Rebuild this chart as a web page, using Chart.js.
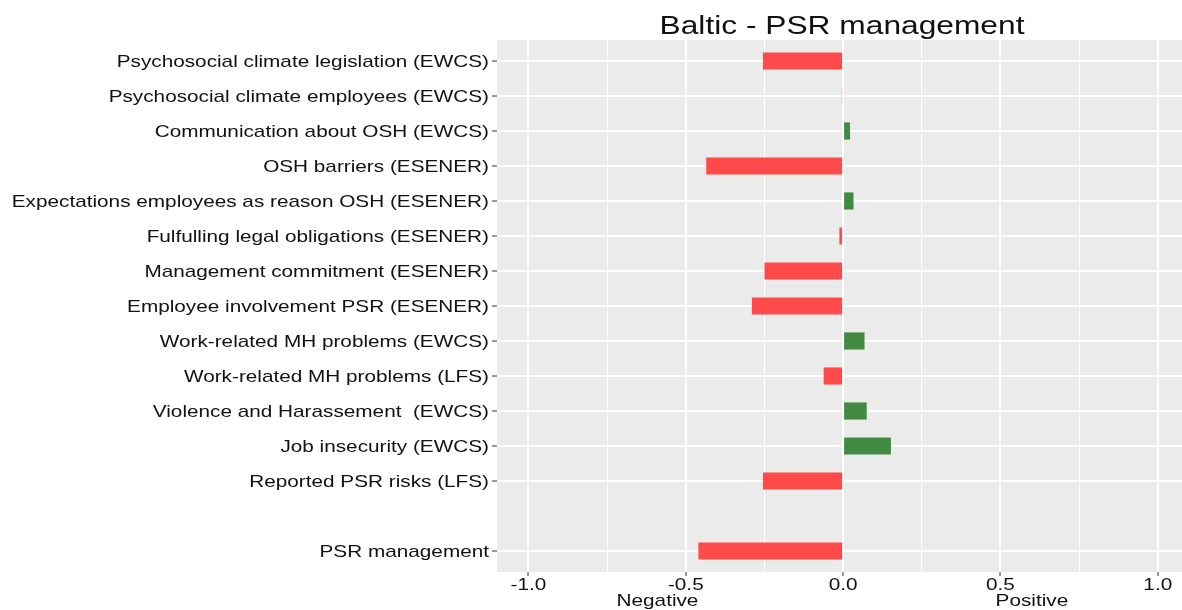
<!DOCTYPE html>
<html>
<head>
<meta charset="utf-8">
<script src="https://cdn.jsdelivr.net/npm/chart.js@4.4.1/dist/chart.umd.min.js"></script>
<style>
  html, body { margin: 0; padding: 0; background: #fff; overflow: hidden; }
  #wrap { width: 1182px; height: 610px; }
</style>
</head>
<body>
<div id="wrap"><canvas id="chart"></canvas></div>
<script>
// indicators, top to bottom ('' = empty spacer row)
const categories = [
  'Psychosocial climate legislation (EWCS)',
  'Psychosocial climate employees (EWCS)',
  'Communication about OSH (EWCS)',
  'OSH barriers (ESENER)',
  'Expectations employees as reason OSH (ESENER)',
  'Fulfulling legal obligations (ESENER)',
  'Management commitment (ESENER)',
  'Employee involvement PSR (ESENER)',
  'Work-related MH problems (EWCS)',
  'Work-related MH problems (LFS)',
  'Violence and Harassement  (EWCS)',
  'Job insecurity (EWCS)',
  'Reported PSR risks (LFS)',
  '',
  'PSR management'
];
const values = [-0.255, -0.004, 0.022, -0.435, 0.033, -0.012, -0.25, -0.29, 0.068, -0.062, 0.075, 0.152, -0.255, null, -0.46];
const xTicks = [-1, -0.75, -0.5, -0.25, 0, 0.25, 0.5, 0.75, 1];
const majorTicks = [-1, -0.5, 0, 0.5, 1];
const sideLabels = [{ text: 'Negative', at: -0.59 }, { text: 'Positive', at: 0.6 }];
const chartTitle = 'Baltic - PSR management';

const RED = '#FF4A4A';
const GREEN = '#418A41';
const FONT = '"Liberation Sans", Arial, sans-serif';
const STRETCH = 1.22; // the original picture is stretched sideways

const isMajor = v => majorTicks.some(m => Math.abs(m - v) < 1e-9);

// rows as points on a linear y scale, so the ggplot-like 0.6 padding fits
const rows = values
  .map((v, i) => ({ x: v, y: i }))
  .filter(p => p.x !== null);

function wideText(ctx, text, x, y, align) {
  ctx.save();
  ctx.translate(x, y);
  ctx.scale(STRETCH, 1);
  ctx.textAlign = align;
  ctx.fillText(text, 0, 0);
  ctx.restore();
}

// grey panel plus all the texts
const ggPanel = {
  id: 'ggPanel',
  beforeDraw(chart) {
    const { ctx, chartArea: a } = chart;
    ctx.save();
    ctx.fillStyle = '#EBEBEB';
    ctx.fillRect(a.left, a.top, a.right - a.left, a.bottom - a.top);
    ctx.restore();
  },
  afterDraw(chart) {
    const { ctx } = chart;
    const x = chart.scales.x, y = chart.scales.y;
    ctx.save();
    ctx.fillStyle = '#111';
    ctx.textBaseline = 'alphabetic';
    ctx.font = '26px ' + FONT;
    wideText(ctx, chartTitle, 842, 34, 'center');

    ctx.font = '17px ' + FONT;
    categories.forEach((c, i) => {
      if (c) wideText(ctx, c, 489, y.getPixelForValue(i) + 6, 'right');
    });
    majorTicks.forEach(v => wideText(ctx, v.toFixed(1), x.getPixelForValue(v), 590, 'center'));
    sideLabels.forEach(s => wideText(ctx, s.text, x.getPixelForValue(s.at), 606, 'center'));
    ctx.restore();
  }
};

new Chart(document.getElementById('chart'), {
  type: 'bar',
  data: {
    datasets: [{
      data: rows,
      backgroundColor: rows.map(p => (p.x >= 0 ? GREEN : RED)),
      borderWidth: 0,
      barPercentage: 0.49,
      categoryPercentage: 1
    }]
  },
  options: {
    indexAxis: 'y',
    responsive: true,
    maintainAspectRatio: false,
    animation: false,
    layout: { padding: { top: 40, right: 0, bottom: 0, left: 0 } },
    plugins: {
      legend: { display: false },
      title: { display: false },
      tooltip: { enabled: false }
    },
    scales: {
      x: {
        type: 'linear',
        min: -1.1,
        max: 1.077,
        afterBuildTicks: scale => { scale.ticks = xTicks.map(v => ({ value: v })); },
        afterFit: scale => { scale.height = 38; },
        border: { display: false },
        grid: {
          color: '#FFFFFF',
          lineWidth: c => (isMajor(c.tick.value) ? 2 : 1),
          tickColor: c => (isMajor(c.tick.value) ? '#333333' : 'rgba(0,0,0,0)'),
          tickLength: 4,
          tickWidth: 1
        },
        ticks: { display: false }
      },
      y: {
        type: 'linear',
        reverse: true,
        offset: false,
        min: -0.6,
        max: categories.length - 0.4,
        afterBuildTicks: scale => {
          scale.ticks = categories
            .map((c, i) => ({ value: i, label: c }))
            .filter(t => t.label !== '');
        },
        afterFit: scale => { scale.width = 497; },
        border: { display: false },
        grid: {
          offset: false,
          color: '#FFFFFF',
          lineWidth: 2,
          tickColor: '#333333',
          tickLength: 5,
          tickWidth: 1
        },
        ticks: { display: false }
      }
    }
  },
  plugins: [ggPanel]
});
</script>
</body>
</html>
